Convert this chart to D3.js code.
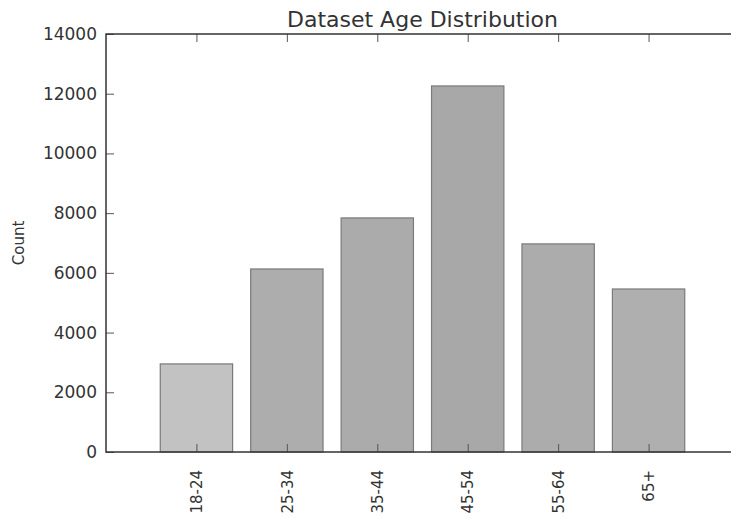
<!DOCTYPE html>
<html>
<head>
<meta charset="utf-8">
<script src="https://cdn.jsdelivr.net/npm/d3@7/dist/d3.min.js"></script>
<style>
  html, body { margin: 0; padding: 0; background: #fff; }
  svg { display: block; }
  text { font-family: "DejaVu Sans", sans-serif; fill: #333; }
</style>
</head>
<body>
<svg id="chart" width="731" height="519"></svg>
<script>
// Age groups and respondent counts
const ageGroups = ["18-24", "25-34", "35-44", "45-54", "55-64", "65+"];
const counts = [2950, 6130, 7840, 12260, 6970, 5460];
const yTicks = [0, 2000, 4000, 6000, 8000, 10000, 12000, 14000];

// Slight shade variation between bars
const barFills = ["#c2c2c2", "#adadad", "#ababab", "#a8a8a8", "#acacac", "#afafaf"];

const svg = d3.select("#chart");
const margin = { left: 106, top: 34, right: 739, bottom: 452 };

// Category positions: one slot of padding on each side of the bars
const x = d3.scaleLinear().domain([-1, ageGroups.length]).range([margin.left, margin.right]);
const y = d3.scaleLinear().domain([0, 14000]).range([margin.bottom, margin.top]);
const barWidth = (x(1) - x(0)) * 0.8;

// Bars
svg.append("g").selectAll("rect")
  .data(counts)
  .join("rect")
  .attr("x", (d, i) => x(i) - barWidth / 2)
  .attr("y", d => y(d))
  .attr("width", barWidth)
  .attr("height", d => y(0) - y(d))
  .attr("fill", (d, i) => barFills[i])
  .attr("stroke", "#7a7a7a")
  .attr("stroke-width", 1.2);

const tickLen = 8;

// Left axis with inward ticks
const yAxis = d3.axisLeft(y).tickValues(yTicks).tickSize(-tickLen).tickPadding(9)
  .tickFormat(d3.format("d"));
const gy = svg.append("g").attr("transform", `translate(${margin.left},0)`).call(yAxis);
gy.select(".domain").remove();
gy.selectAll(".tick line").attr("stroke", "#555").attr("stroke-width", 1);
gy.selectAll(".tick text").attr("font-size", 17).attr("fill", "#3a3a3a");

// Bottom axis with inward ticks and rotated labels
const idx = d3.range(ageGroups.length);
const xAxis = d3.axisBottom(x).tickValues(idx).tickSize(-tickLen).tickFormat(i => ageGroups[i]);
const gx = svg.append("g").attr("transform", `translate(0,${margin.bottom})`).call(xAxis);
gx.select(".domain").remove();
gx.selectAll(".tick line").attr("stroke", "#555").attr("stroke-width", 1);
gx.selectAll(".tick text")
  .attr("font-size", 15)
  .attr("fill", "#3a3a3a")
  .attr("text-anchor", "end")
  .attr("dy", "0.35em")
  .attr("transform", "translate(0,18) rotate(-90)")
  .attr("x", 0)
  .attr("y", 0);

// Top ticks pointing down into the plot
const xTop = d3.axisTop(x).tickValues(idx).tickSize(-tickLen).tickFormat("");
const gt = svg.append("g").attr("transform", `translate(0,${margin.top})`).call(xTop);
gt.select(".domain").remove();
gt.selectAll(".tick line").attr("stroke", "#555").attr("stroke-width", 1);

// Frame (right side falls outside the view)
svg.append("rect")
  .attr("x", margin.left).attr("y", margin.top)
  .attr("width", margin.right - margin.left)
  .attr("height", margin.bottom - margin.top)
  .attr("fill", "none")
  .attr("stroke", "#333")
  .attr("stroke-width", 1.5);

// Title
svg.append("text")
  .attr("x", (margin.left + margin.right) / 2)
  .attr("y", 27)
  .attr("text-anchor", "middle")
  .attr("font-size", 22)
  .text("Dataset Age Distribution");

// Y axis label
svg.append("text")
  .attr("transform", `translate(24,${(margin.top + margin.bottom) / 2}) rotate(-90)`)
  .attr("text-anchor", "middle")
  .attr("font-size", 15)
  .text("Count");
</script>
</body>
</html>
